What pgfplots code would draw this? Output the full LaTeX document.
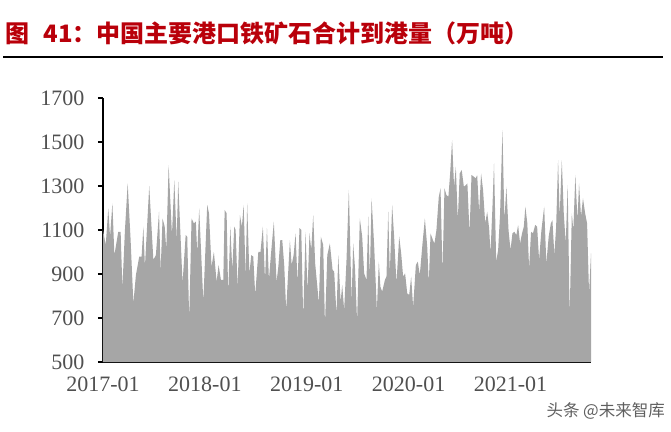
\documentclass[border=0pt]{standalone}
\usepackage{fontspec}
\setmainfont{Liberation Serif}
\newfontfamily\cjk{Noto Sans CJK SC}
\usepackage{pgfplots}
\pgfplotsset{compat=1.18}
\definecolor{titlered}{RGB}{185,0,10}
\definecolor{areagray}{RGB}{166,166,166}
\definecolor{ticktext}{RGB}{80,80,80}
\definecolor{wmgray}{RGB}{95,95,95}
\begin{document}
\begin{tikzpicture}
\path[use as bounding box] (0,0) rectangle (671bp,432bp);
\node[anchor=west, inner sep=0pt, text=titlered, font=\cjk\bfseries\fontsize{24bp}{26bp}\selectfont] at (5bp,399bp) {图\hspace{0.6em}41：中国主要港口铁矿石合计到港量（万吨）};
\draw[line width=2.5bp, black] (3bp,375bp) -- (663bp,375bp);
\begin{axis}[
  at={(103bp,70bp)}, anchor=origin,
  scale only axis, width=488bp, height=264bp,
  xmin=0, xmax=249.1, ymin=500, ymax=1700,
  axis x line=bottom, axis y line=left,
  axis line style={-, black},
  x axis line style={line width=1.6bp},
  y axis line style={line width=1.2bp},
  xtick={0,52,104,156,208},
  xticklabels={2017-01,2018-01,2019-01,2020-01,2021-01},
  ytick={500,700,900,1100,1300,1500,1700},
  major tick length=5bp,
  xtick style={draw=none},
  ytick style={line width=1.2bp, black},
  tick align=outside,
  /pgf/number format/assume math mode=true,
  /pgf/number format/1000 sep={},
  tick label style={font=\fontsize{22bp}{24bp}\selectfont, text=ticktext},
  yticklabel style={xshift=-10bp},
  xticklabel style={yshift=-6bp},
  clip=false,
]
\addplot[fill=areagray, draw=none] table {
x y
0 1100
1.4 1032
2.7 1198
3.6 1070
4.8 1221
5.8 986
7.8 1092
9.0 1092
9.9 835
11.2 1100
12.6 1312
14.1 1054
15.5 767
16.8 895
18.5 979
19.7 979
20.6 1115
21.4 933
23.6 1300
25.7 964
27.0 986
28.6 1183
29.4 911
30.4 1153
31.5 1115
32.3 1009
33.5 1395
35.2 1077
36.4 1327
37.6 1054
38.4 1320
40.6 858
42.2 1077
43.0 1070
44.0 691
45.2 1153
46.4 1130
47.4 1138
48.1 994
49.1 1198
51.2 774
53.2 1214
54.1 1176
55.4 933
56.6 1001
58.0 865
59.0 941
60.2 873
61.4 873
62.1 1191
63.1 1176
63.9 805
65.0 1115
66.0 918
67.0 1115
67.7 1100
68.7 835
69.9 1168
70.9 1115
71.8 1214
72.8 888
73.6 1221
74.7 903
75.7 986
76.7 979
77.7 805
79.3 1001
80.4 1001
81.6 1115
82.7 873
83.7 1108
84.7 873
85.7 986
87.2 1138
88.6 865
89.5 933
90.5 1054
91.5 1054
92.5 941
93.5 736
95.4 1054
96.3 941
97.3 986
98.3 1085
99.3 858
100.3 1108
101.2 1100
102.2 698
103.4 1092
104.4 820
105.4 1085
106.3 1009
107.3 1168
108.3 948
110.2 767
111.2 1070
112.4 1032
113.3 668
114.5 986
115.8 1039
117.2 918
118.0 911
119.2 714
120.1 986
121.3 774
122.1 850
123.1 736
124.3 964
125.5 1282
126.9 774
127.7 1039
128.6 933
129.7 683
131.1 1153
132.3 1070
133.3 903
134.5 873
135.4 1161
136.2 888
137.1 1244
138.4 1032
139.8 736
140.8 956
141.6 842
142.5 820
143.9 873
144.7 888
145.6 1183
146.4 903
147.6 1214
148.6 1070
149.8 858
151.2 1070
152.2 994
153.2 888
154.2 903
155.3 812
156.3 805
157.3 888
158.3 751
159.7 941
160.7 956
161.7 895
163.1 1039
164.3 1153
165.5 1024
166.3 858
167.2 1085
168.4 1054
169.2 1039
170.2 1100
171.4 1251
172.3 1289
173.3 903
174.3 1289
175.3 1259
176.3 1251
177.2 1357
178.2 1509
179.2 1297
180.1 1388
181.1 1145
182.1 1357
183.1 1373
184.2 1297
185.2 1304
186.0 1312
187.1 1085
188.1 1350
189.3 1342
190.3 1335
191.0 1350
192.0 1183
193.0 1357
194.0 1282
195.1 1130
196.1 1183
197.1 1108
197.8 994
198.8 1206
199.6 1403
200.7 956
201.7 1009
202.7 1176
203.9 1554
204.9 1145
205.9 1297
207.0 1100
208.0 1009
209.0 1085
210.0 1092
211.0 1077
211.9 1123
212.9 1039
213.9 1085
214.8 1115
215.6 1206
216.6 1130
217.5 926
218.5 1092
219.5 1085
220.6 1123
221.6 1115
222.6 964
223.8 1100
225.2 1206
226.3 948
227.5 1070
228.6 1130
229.4 1145
230.4 986
231.3 1115
232.3 1418
233.1 1161
234.2 1418
235.2 1176
236.2 1039
237.2 1304
238.2 706
239.3 1176
240.1 1100
241.1 1350
242.2 1145
243.0 1312
244.0 1161
245.0 1244
246.1 1176
247.1 1130
248.1 812
249.1 994
} \closedcycle;
\end{axis}
\node[anchor=east, inner sep=0pt, text=wmgray, font=\cjk\fontsize{16.5bp}{18bp}\selectfont] at (665bp,21bp) {头条 @未来智库};
\end{tikzpicture}
\end{document}
